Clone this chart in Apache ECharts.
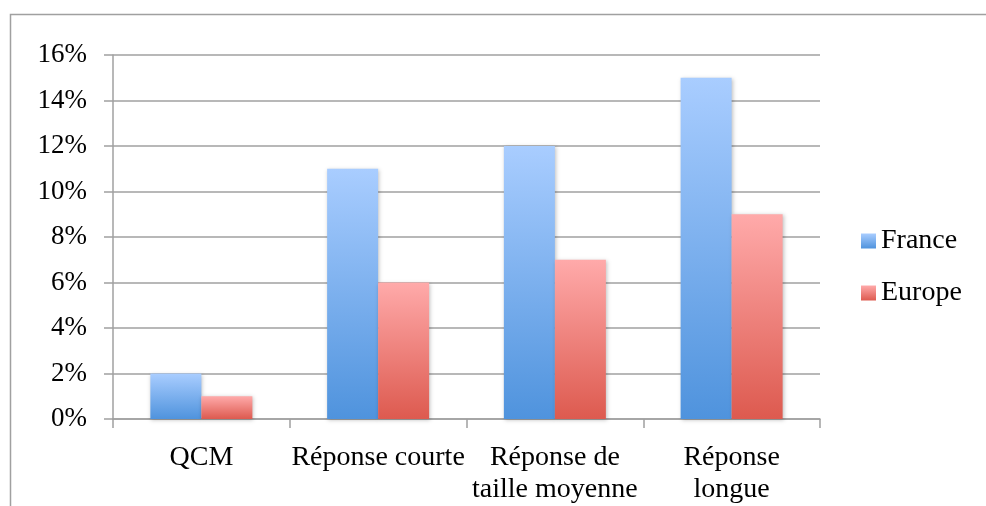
<!DOCTYPE html>
<html>
<head>
<meta charset="utf-8">
<script src="https://cdn.jsdelivr.net/npm/echarts@6/dist/echarts.min.js"></script>
<style>html,body{margin:0;padding:0;background:#fff;overflow:hidden}#c{width:986px;height:506px}</style>
</head>
<body>
<div id="c"></div>
<script>
const categories = ['QCM', 'Réponse courte', 'Réponse de\ntaille moyenne', 'Réponse\nlongue'];
const france = [2, 11, 12, 15];
const europe = [1, 6, 7, 9];
const yTicks = [0, 2, 4, 6, 8, 10, 12, 14, 16];

const font = 'Liberation Serif';
function grad(top, bottom) {
  return new echarts.graphic.LinearGradient(0, 0, 0, 1, [
    { offset: 0, color: top }, { offset: 1, color: bottom }
  ]);
}
const chart = echarts.init(document.getElementById('c'));
chart.setOption({
  animation: false,
  graphic: [{
    type: 'rect', left: 8, top: 12, shape: { width: 1000, height: 520 },
    style: { fill: 'none', stroke: '#a0a0a0', lineWidth: 1.5 }, silent: true
  }],
  grid: { left: 113, right: 166, top: 55, bottom: 83, containLabel: false },
  legend: {
    orient: 'vertical', left: 856, top: 222, itemGap: 24,
    itemWidth: 15, itemHeight: 15, itemGap: 24,
    textStyle: { fontFamily: font, fontSize: 28, color: '#000' },
    data: [
      { name: 'France', icon: 'rect', itemStyle: { color: grad('#a9cdff', '#4f93dd') } },
      { name: 'Europe', icon: 'rect', itemStyle: { color: grad('#ffaaaa', '#dd5a4f') } }
    ]
  },
  xAxis: {
    type: 'category', data: categories,
    axisLine: { lineStyle: { color: '#a0a0a0', width: 1.5 } },
    axisTick: { show: true, length: 9, alignWithLabel: false, lineStyle: { color: '#a0a0a0', width: 1.5 } },
    axisLabel: { fontFamily: font, fontSize: 28, color: '#000', margin: 23, lineHeight: 32, interval: 0 }
  },
  yAxis: {
    type: 'value', min: 0, max: 16, interval: 2,
    axisLine: { show: true, lineStyle: { color: '#a0a0a0', width: 1.5 } },
    axisTick: { show: true, length: 9, lineStyle: { color: '#a0a0a0', width: 1.5 } },
    splitLine: { lineStyle: { color: '#a0a0a0', width: 1.5 } },
    axisLabel: { fontFamily: font, fontSize: 27, color: '#000', margin: 26,
      formatter: v => yTicks.includes(v) ? v + '%' : '' }
  },
  series: [
    { name: 'France', type: 'bar', data: france, barWidth: 51, barGap: '0%',
      itemStyle: { color: grad('#a9cdff', '#4f93dd'), shadowColor: 'rgba(0,0,0,0.25)', shadowBlur: 4, shadowOffsetX: 1, shadowOffsetY: 1 } },
    { name: 'Europe', type: 'bar', data: europe, barWidth: 51,
      itemStyle: { color: grad('#ffaaaa', '#dd5a4f'), shadowColor: 'rgba(0,0,0,0.25)', shadowBlur: 4, shadowOffsetX: 1, shadowOffsetY: 1 } }
  ]
});
</script>
</body>
</html>
